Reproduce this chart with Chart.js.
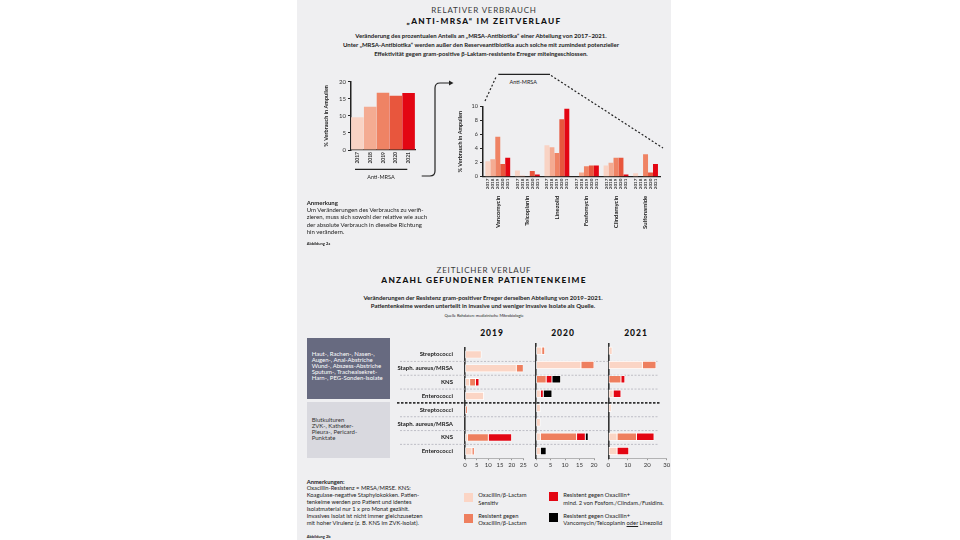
<!DOCTYPE html>
<html>
<head>
<meta charset="utf-8">
<script src="https://cdn.jsdelivr.net/npm/chart.js@4.4.1/dist/chart.umd.min.js"></script>
<style>
body{margin:0;background:#fff;width:960px;height:540px;overflow:hidden;position:relative;font-family:Lato,"Noto Sans",sans-serif;color:#222}
#panel{position:absolute;left:297px;top:0;width:374px;height:540px;background:#efeff1}
.t{position:absolute;white-space:nowrap}
.c{transform:translateX(-50%);text-align:center}
canvas{position:absolute}
svg{position:absolute;left:0;top:0}
.box{position:absolute;left:307px;width:83px}
.sw{position:absolute;width:8.5px;height:8.7px}
.h1{font:400 8px/10px Lato;letter-spacing:0.8px;color:#3a3a3a}
.h2{font:900 8.3px/10px Lato;letter-spacing:1.3px;color:#111}
</style>
</head>
<body>
<div id="panel"></div>

<!-- Kopf Abbildung 2a -->
<div class="t c h1" style="left:484px;top:4.5px">RELATIVER VERBRAUCH</div>
<div class="t c h2" style="left:484px;top:15.7px">„ANTI-MRSA“ IM ZEITVERLAUF</div>
<div class="t c" style="left:481px;top:30.5px;font:bold 6px/9px Lato">Veränderung des prozentualen Anteils an „MRSA-Antibiotika“ einer Abteilung von 2017–2021.<br>Unter „MRSA-Antibiotika“ werden außer den Reserveantibiotika auch solche mit zumindest potenzieller<br>Effektivität gegen gram-positive β-Laktam-resistente Erreger miteingeschlossen.</div>

<canvas id="graficaGesamt" width="102" height="100" style="left:318px;top:75px"></canvas>
<canvas id="graficaWirkstoffe" width="220" height="140" style="left:452px;top:100px"></canvas>

<div class="t c" style="left:381px;top:174.3px;font:5.5px/6px Lato">Anti-MRSA</div>
<div class="t c" style="left:523.3px;top:78.7px;font:5.5px/6px Lato">Anti-MRSA</div>

<div class="t" style="left:306.7px;top:199px;font:6px/7.2px Lato"><b>Anmerkung</b><br>Um Veränderungen des Verbrauchs zu verifi-<br>zieren, muss sich sowohl der relative wie auch<br>der absolute Verbrauch in dieselbe Richtung<br>hin verändern.</div>
<div class="t" style="left:306.7px;top:240.5px;font:bold 4px/5px Lato">Abbildung 2a</div>

<!-- Kopf Abbildung 2b -->
<div class="t c h1" style="left:484px;top:265px">ZEITLICHER VERLAUF</div>
<div class="t c h2" style="left:484px;top:275px">ANZAHL GEFUNDENER PATIENTENKEIME</div>
<div class="t c" style="left:483px;top:294px;font:bold 6px/7.5px Lato">Veränderungen der Resistenz gram-positiver Erreger derselben Abteilung von 2019–2021.<br>Patientenkeime werden unterteilt in invasive und weniger invasive Isolate als Quelle.</div>
<div class="t c" style="left:484px;top:312.5px;font:4px/5px Lato">Quelle Rohdaten: medizinische Mikrobiologie</div>

<div class="t c" style="left:492px;top:328px;font:900 8.5px/10px Lato;letter-spacing:1px;color:#111">2019</div>
<div class="t c" style="left:563px;top:328px;font:900 8.5px/10px Lato;letter-spacing:1px;color:#111">2020</div>
<div class="t c" style="left:636px;top:328px;font:900 8.5px/10px Lato;letter-spacing:1px;color:#111">2021</div>

<div class="box" style="top:338.3px;height:60.7px;background:#676a80"></div>
<div class="box" style="top:402.3px;height:56px;background:#d9d9df"></div>
<div class="t" style="left:311.7px;top:351.2px;font:6px/6px Lato;color:#fff">Haut-, Rachen-, Nasen-,<br>Augen-, Anal-Abstriche<br>Wund-, Abszess-Abstriche<br>Sputum-, Trachealsekret-<br>Harn-, PEG-Sonden-Isolate</div>
<div class="t" style="left:311.7px;top:417px;font:6px/5.9px Lato;color:#333">Blutkulturen<br>ZVK-, Katheter-<br>Pleura-, Pericard-<br>Punktate</div>

<canvas id="panel2019" width="275" height="132" style="left:395px;top:340px"></canvas>
<canvas id="panel2020" width="74" height="132" style="left:528px;top:340px"></canvas>
<canvas id="panel2021" width="74" height="132" style="left:600px;top:340px"></canvas>

<!-- Anmerkungen und Legende -->
<div class="t" style="left:306.7px;top:478.7px;font:bold 5.8px/6px Lato">Anmerkungen:</div>
<div class="t" style="left:306.7px;top:484px;font:5.8px/7px Lato">Oxacillin-Resistenz = MRSA/MRSE. KNS:<br>Koagulase-negative Staphylokokken. Patien-<br>tenkeime werden pro Patient und identes<br>Isolatmaterial nur 1 x pro Monat gezählt.<br>Invasives Isolat ist nicht immer gleichzusetzen<br>mit hoher Virulenz (z. B. KNS im ZVK-Isolat).</div>
<div class="t" style="left:306.7px;top:534.2px;font:bold 4px/5px Lato">Abbildung 2b</div>

<div class="sw" style="left:464.3px;top:493.3px;background:#fbd5c5"></div>
<div class="sw" style="left:464.3px;top:514px;background:#ee7f5f"></div>
<div class="sw" style="left:549.3px;top:492.3px;background:#e30613"></div>
<div class="sw" style="left:549.3px;top:513.3px;background:#000"></div>
<div class="t" style="left:478.3px;top:491.3px;font:5.8px/7.3px Lato">Oxacillin/β-Lactam<br>Sensitiv</div>
<div class="t" style="left:478.3px;top:511.6px;font:5.8px/7.3px Lato">Resistent gegen<br>Oxacillin/β-Lactam</div>
<div class="t" style="left:563.3px;top:491.3px;font:5.8px/7.3px Lato">Resistent gegen Oxacillin+<br>mind. 2 von Fosfom./Clindam./Fusidins.</div>
<div class="t" style="left:563.3px;top:511.6px;font:5.8px/7.3px Lato">Resistent gegen Oxacillin+<br>Vancomycin/Teicoplanin <u>oder</u> Linezolid</div>

<svg width="960" height="540">
  <g fill="none" stroke="#222" stroke-width="1.2">
    <path d="M421.7 176 H430 Q435 176 435 171 V88 Q435 83 440 83 H449"/>
    <line x1="355" y1="169.3" x2="407.3" y2="169.3"/>
    <line x1="498.3" y1="74.3" x2="550" y2="74.3"/>
    <line x1="485" y1="101" x2="496.5" y2="76" stroke-dasharray="2 2"/>
    <line x1="551" y1="75.5" x2="663" y2="148" stroke-dasharray="2 2"/>
  </g>
  <path d="M449 80.6 L453.5 83 L449 85.4 Z" fill="#222"/>
</svg>

<script>
// Abbildung 2a: relativer Verbrauch "Anti-MRSA"
const jahre = ['2017', '2018', '2019', '2020', '2021'];
const jahrFarben = ['#f9d3c4', '#f4ab92', '#ef8364', '#e8563d', '#e30613'];
const antiMrsaGesamt = [9.6, 12.7, 16.8, 15.9, 16.7];

const wirkstoffe = ['Vancomycin', 'Teicoplanin', 'Linezolid', 'Fosfomycin', 'Clindamycin', 'Sulfonamide'];
const verbrauch2017 = [2.2, 0.9, 4.5, 0, 1.6, 0.5];
const verbrauch2018 = [2.5, 0.15, 4.2, 0.6, 2.0, 0];
const verbrauch2019 = [5.7, 0, 3.4, 1.5, 2.7, 3.2];
const verbrauch2020 = [1.8, 0.8, 8.2, 1.6, 2.7, 0.6];
const verbrauch2021 = [2.7, 0.3, 9.7, 1.6, 0.3, 1.8];

// Abbildung 2b: Anzahl gefundener Patientenkeime (obere 4 Zeilen weniger invasiv, untere 4 invasiv)
const erreger = ['Streptococci', 'Staph. aureus/MRSA', 'KNS', 'Enterococci',
                 'Streptococci', 'Staph. aureus/MRSA', 'KNS', 'Enterococci'];
const gruppenGrenze = 4;
const kategorien = ['Oxacillin/β-Lactam Sensitiv', 'Resistent gegen Oxacillin/β-Lactam',
                    'Resistent gegen Oxacillin+ mind. 2', 'Resistent gegen Oxacillin+ Vanco/Teico/Linezolid'];
const kategorieFarben = ['#fbd5c5', '#ee7f5f', '#e30613', '#000000'];

const sensitiv2019 = [7, 22, 2, 8, 0, 0, 1, 3];
const oxaRes2019   = [0, 3, 2.5, 0, 1, 0, 9, 1];
const mind2Res2019 = [0, 0, 1.5, 0, 0, 0, 10, 0];
const vancoRes2019 = [0, 0, 0, 0, 0, 0, 0, 0];

const sensitiv2020 = [2, 15.5, 0, 1.5, 1.5, 1.5, 1.5, 1.5];
const oxaRes2020   = [1, 4.5, 3.5, 0, 0, 0, 12.5, 0];
const mind2Res2020 = [0, 0, 2, 1, 0, 0, 3, 0];
const vancoRes2020 = [0, 0, 3, 3, 0, 0, 1, 2];

const sensitiv2021 = [2, 17.5, 0, 2.5, 1.5, 0, 4.5, 4.5];
const oxaRes2021   = [0, 7, 6.5, 0, 0, 0, 10, 0];
const mind2Res2021 = [0, 0, 2, 4, 0, 0, 9, 6];
const vancoRes2021 = [0, 0, 0, 0, 0, 0, 0, 0];

Chart.defaults.font.family = 'Lato, "Noto Sans", sans-serif';
Chart.defaults.color = '#222';

const basis = {
    responsive: false,
    animation: false,
    plugins: { legend: { display: false }, tooltip: { enabled: false } }
};

// Jahreszahlen unter jedem Balken
const jahrLabels = {
    id: 'jahrLabels',
    afterDatasetsDraw(chart) {
        const ctx = chart.ctx;
        ctx.save();
        ctx.font = 'bold 4.5px Lato';
        ctx.fillStyle = '#333';
        ctx.textAlign = 'right';
        ctx.textBaseline = 'middle';
        chart.data.datasets.forEach((ds, i) => {
            chart.getDatasetMeta(i).data.forEach(bar => {
                ctx.save();
                ctx.translate(bar.x, chart.chartArea.bottom + 2);
                ctx.rotate(-Math.PI / 2);
                ctx.fillText(ds.label, 0, 0);
                ctx.restore();
            });
        });
        ctx.restore();
    }
};

// gestrichelte Trennlinien zwischen den Erregerzeilen (über alle drei Jahre)
const trennlinien = {
    id: 'trennlinien',
    beforeDatasetsDraw(chart) {
        const y = chart.scales.y, ctx = chart.ctx;
        for (let i = 1; i < erreger.length; i++) {
            const py = (y.getPixelForValue(i - 1) + y.getPixelForValue(i)) / 2;
            const dick = i === gruppenGrenze;
            ctx.save();
            ctx.setLineDash(dick ? [2.5, 1.5] : [2, 1.5]);
            ctx.strokeStyle = dick ? '#333' : '#b3b3bb';
            ctx.lineWidth = dick ? 1.6 : 0.8;
            ctx.beginPath();
            ctx.moveTo(dick ? 2 : 5, py);
            ctx.lineTo(chart.width - (dick ? 10 : 12), py);
            ctx.stroke();
            ctx.restore();
        }
    }
};

function renderizarGraficas() {
    const yTitel = { display: true, text: '% Verbrauch in Ampullen', font: { size: 5.5, weight: 'bold' }, padding: { top: 5, bottom: 2 } };

    // Gesamtverbrauch Anti-MRSA
    new Chart(document.getElementById('graficaGesamt'), {
        type: 'bar',
        data: {
            labels: jahre,
            datasets: [{ data: antiMrsaGesamt, backgroundColor: jahrFarben, barPercentage: 1, categoryPercentage: 0.98 }]
        },
        options: {
            ...basis,
            layout: { autoPadding: false, padding: { top: 6.7, right: 5, left: 0, bottom: 0 } },
            scales: {
                x: {
                    grid: { display: false, drawTicks: false },
                    border: { color: '#222', width: 1.2 },
                    ticks: { minRotation: 90, maxRotation: 90, autoSkip: false, padding: 2, font: { size: 5, weight: 'bold' }, color: '#333' },
                    afterFit(s) { s.height = 25; }
                },
                y: {
                    min: 0, max: 20,
                    ticks: { stepSize: 5, padding: 2, font: { size: 6 }, color: '#333' },
                    grid: { display: true, drawOnChartArea: false, tickLength: 3, color: '#222' },
                    border: { color: '#222', width: 1.5 },
                    title: yTitel,
                    afterFit(s) { s.width = 33; }
                }
            }
        }
    });

    // Verbrauch je Wirkstoff
    const verbrauch = [verbrauch2017, verbrauch2018, verbrauch2019, verbrauch2020, verbrauch2021];
    new Chart(document.getElementById('graficaWirkstoffe'), {
        type: 'bar',
        data: {
            labels: wirkstoffe,
            datasets: jahre.map((j, i) => ({
                label: j, data: verbrauch[i], backgroundColor: jahrFarben[i],
                barPercentage: 1, categoryPercentage: 0.84
            }))
        },
        options: {
            ...basis,
            layout: { autoPadding: false, padding: { top: 6.7, right: 3, left: 0, bottom: 0 } },
            scales: {
                x: {
                    grid: { display: false, drawTicks: false },
                    border: { color: '#222', width: 1.2 },
                    ticks: { minRotation: 90, maxRotation: 90, autoSkip: false, padding: 19, font: { size: 6, weight: 'bold' }, color: '#222' },
                    afterFit(s) { s.height = 63.3; }
                },
                y: {
                    min: 0, max: 10,
                    ticks: { stepSize: 2, padding: 2, font: { size: 5.5 }, color: '#333' },
                    grid: { display: true, drawOnChartArea: false, tickLength: 3, color: '#222' },
                    border: { color: '#222', width: 1.5 },
                    title: yTitel,
                    afterFit(s) { s.width = 31; }
                }
            }
        },
        plugins: [jahrLabels]
    });

    // Patientenkeime je Jahr
    const panels = [
        { id: 'panel2019', daten: [sensitiv2019, oxaRes2019, mind2Res2019, vancoRes2019], max: 25, step: 5, links: 0, rechts: 146.7, yBreite: 70, labels: true, plugins: [trennlinien] },
        { id: 'panel2020', daten: [sensitiv2020, oxaRes2020, mind2Res2020, vancoRes2020], max: 20, step: 5, links: 8, rechts: 8, yBreite: 0, labels: false, plugins: [] },
        { id: 'panel2021', daten: [sensitiv2021, oxaRes2021, mind2Res2021, vancoRes2021], max: 30, step: 10, links: 8.3, rechts: 7.3, yBreite: 0, labels: false, plugins: [] }
    ];
    panels.forEach(p => {
        new Chart(document.getElementById(p.id), {
            type: 'bar',
            data: {
                labels: erreger,
                datasets: kategorien.map((k, i) => ({
                    label: k,
                    data: p.daten[i].map(v => v || null),
                    backgroundColor: kategorieFarben[i],
                    borderColor: '#ffffff', borderWidth: 0.8, borderSkipped: false,
                    barThickness: 7.5
                }))
            },
            options: {
                ...basis,
                indexAxis: 'y',
                layout: { autoPadding: false, padding: { top: 3.5, right: p.rechts, left: p.links, bottom: 0 } },
                scales: {
                    x: {
                        stacked: true, min: 0, max: p.max,
                        ticks: { stepSize: p.step, autoSkip: false, maxRotation: 0, padding: 1, font: { size: 6 }, color: '#333' },
                        grid: { display: true, drawOnChartArea: false, tickLength: 2, color: '#999' },
                        border: { color: '#999', width: 0.7 },
                        afterFit(s) { s.height = 13.8; }
                    },
                    y: {
                        stacked: true,
                        grid: { display: false },
                        border: { color: '#333', width: 1.6 },
                        ticks: { display: p.labels, padding: 4, font: { size: 6, weight: 'bold' }, color: '#222' },
                        afterFit(s) { s.width = p.yBreite; }
                    }
                }
            },
            plugins: p.plugins
        });
    });
}

document.addEventListener('DOMContentLoaded', renderizarGraficas);
</script>
</body>
</html>
